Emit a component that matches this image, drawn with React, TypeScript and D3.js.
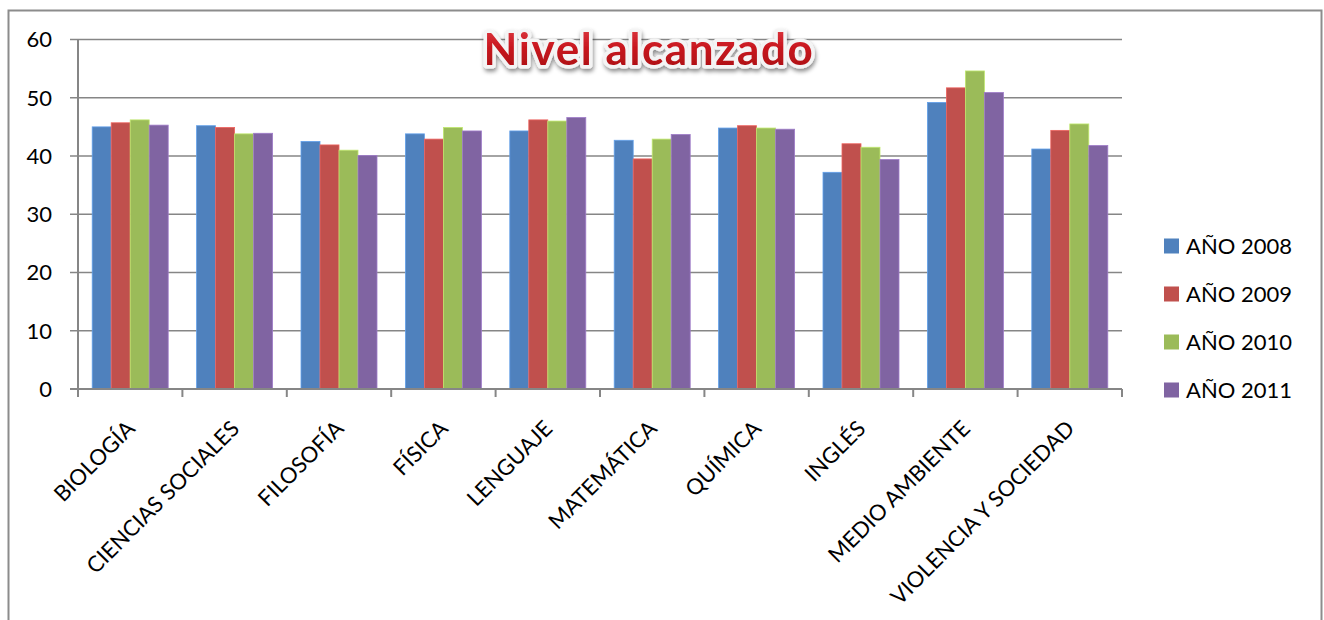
import React from "react";
import * as d3 from "d3";

const categories = [
  "BIOLOGÍA",
  "CIENCIAS SOCIALES",
  "FILOSOFÍA",
  "FÍSICA",
  "LENGUAJE",
  "MATEMÁTICA",
  "QUÍMICA",
  "INGLÉS",
  "MEDIO AMBIENTE",
  "VIOLENCIA Y SOCIEDAD",
];

const seriesNames = ["AÑO 2008", "AÑO 2009", "AÑO 2010", "AÑO 2011"];
const seriesColors = ["#4F81BD", "#C0504D", "#9BBB59", "#8064A2"];

const values2008 = [45.0, 45.2, 42.5, 43.8, 44.3, 42.7, 44.8, 37.2, 49.2, 41.2];
const values2009 = [45.7, 44.9, 41.9, 42.9, 46.2, 39.5, 45.2, 42.1, 51.7, 44.4];
const values2010 = [46.2, 43.8, 41.0, 44.9, 46.0, 42.9, 44.8, 41.5, 54.6, 45.5];
const values2011 = [45.3, 43.9, 40.1, 44.3, 46.6, 43.7, 44.6, 39.4, 50.9, 41.8];

const yTicks = [0, 10, 20, 30, 40, 50, 60];
const titleText = "Nivel alcanzado";

const W = 1324;
const H = 620;
const plot = { left: 78, right: 1122, top: 39.5, bottom: 389 };
const FONT = "Lato, 'Open Sans', sans-serif";

export default function App() {
  const series = [values2008, values2009, values2010, values2011];
  const pi = 0.272;
  const x = d3
    .scaleBand<string>()
    .domain(categories)
    .range([plot.left, plot.right])
    .paddingInner(pi)
    .paddingOuter(pi / 2);
  const xs = d3
    .scaleBand<number>()
    .domain(d3.range(series.length))
    .range([0, x.bandwidth()]);
  const y = d3.scaleLinear().domain([0, 60]).range([plot.bottom, plot.top]);
  const step = x.step();
  const boundaries = d3.range(categories.length + 1).map((i) => plot.left + i * step);

  const grid = "#868686";

  return (
    <svg width={W} height={H} style={{ position: "absolute", left: 0, top: 0 }}>
      <defs>
        <linearGradient id="titleGrad" x1="0" y1="0" x2="0" y2="1">
          <stop offset="0" stopColor="#E2424A" />
          <stop offset="0.5" stopColor="#C8161E" />
          <stop offset="1" stopColor="#A50E14" />
        </linearGradient>
        <filter id="titleShadow" x="-10%" y="-30%" width="120%" height="170%">
          <feGaussianBlur in="SourceAlpha" stdDeviation="2" />
          <feOffset dx="1" dy="3" result="ob" />
          <feFlood floodColor="#000" floodOpacity="0.45" />
          <feComposite in2="ob" operator="in" result="sh" />
          <feMerge>
            <feMergeNode in="sh" />
            <feMergeNode in="SourceGraphic" />
          </feMerge>
        </filter>
      </defs>
      <rect x={0} y={0} width={W} height={H} fill="#fff" />
      <rect
        x={8.5}
        y={10.5}
        width={1313}
        height={H + 20}
        fill="#fff"
        stroke="#8C8C8C"
        strokeWidth={2}
      />

      {/* gridlines */}
      {yTicks.map((t) => (
        <line
          key={"g" + t}
          x1={plot.left - 8}
          x2={plot.right}
          y1={y(t)}
          y2={y(t)}
          stroke={grid}
          strokeWidth={t === 0 ? 2 : 1.6}
        />
      ))}
      {/* y axis */}
      <line x1={plot.left} x2={plot.left} y1={plot.top} y2={plot.bottom} stroke={grid} strokeWidth={2} />
      {yTicks.map((t) => (
        <text
          key={"yt" + t}
          x={52}
          y={y(t)}
          dy="0.36em"
          textAnchor="end"
          fontFamily={FONT}
          fontSize={22}
          fill="#000"
        >
          {t}
        </text>
      ))}

      {/* bars */}
      {categories.map((c, ci) => (
        <g key={c} transform={`translate(${x(c)},0)`}>
          {series.map((vals, si) => (
            <rect
              key={si}
              x={xs(si)}
              y={y(vals[ci])}
              width={xs.bandwidth()}
              height={y(0) - y(vals[ci])}
              fill={seriesColors[si]}
              stroke={d3.color(seriesColors[si])!.brighter(0.6).formatHex()}
              strokeWidth={0.8}
            />
          ))}
        </g>
      ))}

      {/* x axis */}
      <line x1={plot.left} x2={plot.right} y1={plot.bottom} y2={plot.bottom} stroke={grid} strokeWidth={2} />
      {boundaries.map((b, i) => (
        <line key={"xt" + i} x1={b} x2={b} y1={plot.bottom} y2={plot.bottom + 8} stroke={grid} strokeWidth={2} />
      ))}
      {categories.map((c) => {
        const cx = (x(c) as number) + x.bandwidth() / 2;
        return (
          <text
            key={"xl" + c}
            transform={`translate(${cx + 6},${plot.bottom + 41}) rotate(-45)`}
            textAnchor="end"
            fontFamily={FONT}
            fontSize={22}
            fill="#000"
          >
            {c}
          </text>
        );
      })}

      {/* legend */}
      {seriesNames.map((n, i) => {
        const cy = 246 + i * 48;
        return (
          <g key={n}>
            <rect x={1164} y={cy - 7.5} width={15} height={15} fill={seriesColors[i]} />
            <text x={1186} y={cy} dy="0.36em" fontFamily={FONT} fontSize={22} fill="#000">
              {n}
            </text>
          </g>
        );
      })}

      {/* title */}
      <g filter="url(#titleShadow)">
        <text
          x={649}
          y={65}
          textAnchor="middle"
          fontFamily={FONT}
          fontWeight={700}
          fontSize={44}
          letterSpacing={1.6}
          fill="none"
          stroke="#F4F4F4"
          strokeWidth={7}
          strokeLinejoin="round"
        >
          {titleText}
        </text>
        <text
          x={649}
          y={65}
          textAnchor="middle"
          fontFamily={FONT}
          fontWeight={700}
          fontSize={44}
          letterSpacing={1.6}
          fill="url(#titleGrad)"
        >
          {titleText}
        </text>
      </g>
    </svg>
  );
}
